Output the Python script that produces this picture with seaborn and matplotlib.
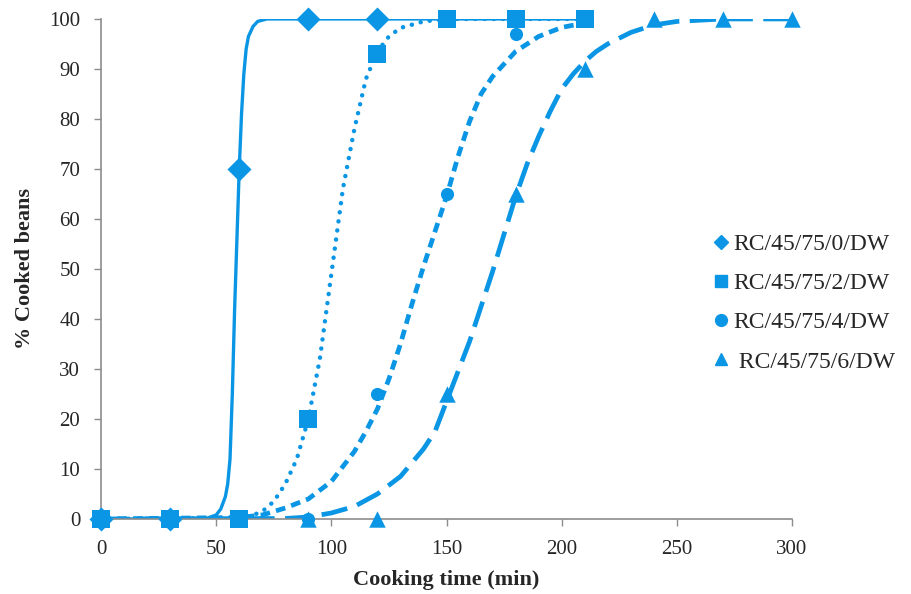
import numpy as np
import pandas as pd
import matplotlib
matplotlib.use("Agg")
import matplotlib.pyplot as plt
import seaborn as sns
from matplotlib.lines import Line2D

# measured points (markers)
diamond_x = [0, 30, 60, 90, 120]
diamond_y = [0, 0, 70, 100, 100]
square_x = [0, 30, 60, 90, 120, 150, 180, 210]
square_y = [0, 0, 0, 20, 93, 100, 100, 100]
circle_x = [90, 120, 150, 180, 210]
circle_y = [0, 25, 65, 97, 100]
triangle_x = [90, 120, 150, 180, 210, 240, 270, 300]
triangle_y = [0, 0, 25, 65, 90, 100, 100, 100]

# fitted curves
fit0_x = [0, 45, 50, 52, 54, 55, 56, 57, 58, 59, 60, 61, 62, 63, 64, 66, 68, 72, 210]
fit0_y = [0, 0, 0.8, 2, 4.5, 7, 12, 25, 42, 56, 70, 81, 89, 94, 96.5, 98.5, 99.5, 100, 100]
fit1_x = [0, 60, 65, 70, 75, 80, 85, 90, 95, 100, 105, 110, 115, 120, 125, 130, 140, 150, 210]
fit1_y = [0, 0.2, 0.6, 1.5, 3.5, 7, 12, 20, 32, 49, 66, 78, 88, 93.5, 96.5, 98.2, 99.5, 100, 100]
fit2_x = [0, 60, 70, 80, 90, 100, 110, 115, 120, 125, 130, 135, 140, 145, 150, 155, 160,
          165, 170, 180, 190, 200, 210]
fit2_y = [0, 0.3, 0.8, 2.2, 4, 7.5, 13.5, 17.5, 22, 28, 35, 43, 50.5, 57.5, 64.5, 72.5, 79.5,
          85, 88.5, 93.5, 96.5, 98.3, 99.2]
fit3_x = [0, 80, 90, 100, 110, 120, 130, 140, 145, 150, 155, 160, 165, 170, 175, 180, 185,
          190, 195, 200, 205, 210, 215, 220, 230, 240, 250, 270, 300]
fit3_y = [0, 0.1, 0.4, 1.2, 2.5, 5, 8.5, 14, 17.5, 23.5, 29.5, 35.5, 42.5, 49.5, 57, 64.5, 71,
          76.5, 81.5, 86, 89, 91.5, 93.5, 95, 97.3, 98.8, 99.5, 100, 100]

labels = ["RC/45/75/0/DW", "RC/45/75/2/DW", "RC/45/75/4/DW", " RC/45/75/6/DW"]
blue = "#0A96E4"

sns.set_style("white")
plt.rcParams["font.family"] = ["Liberation Serif", "DejaVu Serif"]
plt.rcParams["lines.scale_dashes"] = False

fig = plt.figure(figsize=(9.11, 5.94), dpi=100)
ax = fig.add_axes([0.1109, 0.1263, 0.7585, 0.8418])

# curves
sns.lineplot(x=fit0_x, y=fit0_y, ax=ax, color=blue, linewidth=2.4, sort=False)
sns.lineplot(x=fit1_x, y=fit1_y, ax=ax, color=blue, linewidth=3.2, sort=False,
             linestyle=(0, (0.1, 6.5)), dash_capstyle="round")
sns.lineplot(x=fit2_x, y=fit2_y, ax=ax, color=blue, linewidth=3.4, sort=False,
             linestyle=(0, (7.0, 4.5)))
sns.lineplot(x=fit3_x, y=fit3_y, ax=ax, color=blue, linewidth=3.4, sort=False,
             linestyle=(0, (19.0, 7.5)))

# markers
sns.scatterplot(x=diamond_x, y=diamond_y, ax=ax, marker="D", s=150, color=blue,
                linewidth=0, clip_on=False, zorder=4)
sns.scatterplot(x=square_x, y=square_y, ax=ax, marker="s", s=170, color=blue,
                linewidth=0, clip_on=False, zorder=4)
sns.scatterplot(x=circle_x, y=circle_y, ax=ax, marker="o", s=90, color=blue,
                linewidth=0, clip_on=False, zorder=4)
sns.scatterplot(x=triangle_x, y=triangle_y, ax=ax, marker="^", s=140, color=blue,
                linewidth=0, clip_on=False, zorder=5)

ax.set_xlim(0, 300)
ax.set_ylim(0, 100)
ax.set_xticks(range(0, 301, 50))
ax.set_yticks(range(0, 101, 10))
ax.tick_params(axis="both", labelsize=15, length=5, width=1, color="#8c8c8c",
               direction="out", bottom=True, left=True, pad=10)
for s in ["top", "right"]:
    ax.spines[s].set_visible(False)
for s in ["left", "bottom"]:
    ax.spines[s].set_color("#8c8c8c")
    ax.spines[s].set_linewidth(1.2)

ax.set_xlabel("Cooking time (min)", fontsize=16, fontweight="bold", labelpad=8)
ax.set_ylabel("% Cooked beans", fontsize=16, fontweight="bold", labelpad=10)

handles = [
    Line2D([], [], linestyle="none", marker="D", markersize=7, color=blue),
    Line2D([], [], linestyle="none", marker="s", markersize=9, color=blue),
    Line2D([], [], linestyle="none", marker="o", markersize=8.5, color=blue),
    Line2D([], [], linestyle="none", marker="^", markersize=8.5, color=blue),
]
fig.legend(handles, labels, loc="center left", bbox_to_anchor=(0.771, 0.49),
           frameon=False, fontsize=17, handlelength=0.6, handletextpad=0.2,
           borderpad=0, labelspacing=0.75)

fig.savefig("out.png", dpi=100)
